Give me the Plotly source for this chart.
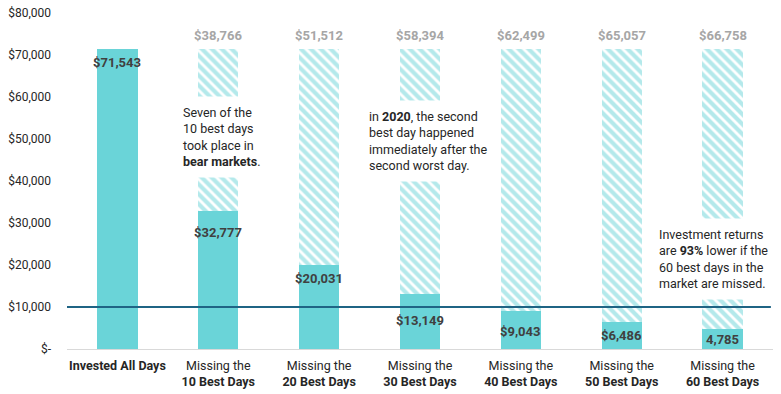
import plotly.graph_objects as go

# ---- data ----
categories = [
    "<b>Invested All Days</b>",
    "Missing the<br><b>10 Best Days</b>",
    "Missing the<br><b>20 Best Days</b>",
    "Missing the<br><b>30 Best Days</b>",
    "Missing the<br><b>40 Best Days</b>",
    "Missing the<br><b>50 Best Days</b>",
    "Missing the<br><b>60 Best Days</b>",
]
values = [71543, 32777, 20031, 13149, 9043, 6486, 4785]
value_labels = ["$71,543", "$32,777", "$20,031", "$13,149", "$9,043", "$6,486", "4,785"]
lost_labels = ["", "$38,766", "$51,512", "$58,394", "$62,499", "$65,057", "$66,758"]
y_ticks = [0, 10000, 20000, 30000, 40000, 50000, 60000, 70000, 80000]
y_tick_labels = ["$-", "$10,000", "$20,000", "$30,000", "$40,000", "$50,000",
                 "$60,000", "$70,000", "$80,000"]
reference_level = 10000

notes = [
    (1, 50500, "Seven of the<br>10 best days<br>took place in<br><b>bear markets</b>.", -44),
    (3, 49500, "in <b>2020</b>, the second<br>best day happened<br>immediately after the<br>second worst day.", -60),
    (6, 21400, "Investment returns<br>are <b>93%</b> lower if the<br>60 best days in the<br>market are missed.", -73),
]

# ---- style ----
TEAL = "#6AD4D8"
FONT = "Roboto"
value_label_drop = [14, 21, 14, 27, 20, 14, 11]

total = values[0]
lost = [total - v for v in values]
x = list(range(len(categories)))

fig = go.Figure()
fig.add_trace(go.Bar(
    x=x, y=values, width=0.4,
    marker=dict(color=TEAL, line=dict(width=0)),
    hoverinfo="skip", showlegend=False,
))
fig.add_trace(go.Bar(
    x=x, y=lost, width=0.4,
    marker=dict(color="white", line=dict(width=0),
                pattern=dict(shape="\\", fgcolor=TEAL, bgcolor="white",
                             size=7, solidity=0.6, fillmode="overlay")),
    hoverinfo="skip", showlegend=False,
))

annotations = []
for i, (v, lab, drop) in enumerate(zip(values, value_labels, value_label_drop)):
    annotations.append(dict(
        x=i, y=v, xref="x", yref="y", text=f"<b>{lab}</b>", showarrow=False,
        yanchor="middle", yshift=-drop,
        font=dict(family=FONT, size=13, color="#404040"),
    ))
for i, lab in enumerate(lost_labels):
    if lab:
        annotations.append(dict(
            x=i, y=total, xref="x", yref="y", text=f"<b>{lab}</b>", showarrow=False,
            yanchor="bottom", yshift=4,
            font=dict(family=FONT, size=13, color="#A6A6A6"),
        ))
for xi, yi, txt, xs in notes:
    annotations.append(dict(
        x=xi, y=yi, xref="x", yref="y", text=txt, showarrow=False,
        xanchor="left", yanchor="middle", xshift=xs, align="left",
        bgcolor="white", borderpad=8,
        font=dict(family=FONT, size=12.5, color="#262626"),
    ))

fig.add_shape(type="line", xref="paper", yref="y", x0=0, x1=0.997,
              y0=reference_level, y1=reference_level,
              line=dict(color="#1F6484", width=2))

fig.update_layout(
    width=781, height=394,
    margin=dict(l=67, r=8, t=13, b=45, autoexpand=False),
    barmode="stack",
    plot_bgcolor="white", paper_bgcolor="white",
    font=dict(family=FONT, size=12, color="#262626"),
    annotations=annotations,
    xaxis=dict(
        tickmode="array", tickvals=x, ticktext=categories,
        range=[-0.5, len(categories) - 0.5],
        showline=True, linecolor="#D9D9D9", linewidth=1,
        showgrid=False, zeroline=False, ticks="",
        tickfont=dict(family=FONT, size=12.5, color="#262626"),
        ticklabelstandoff=5, automargin=False,
    ),
    yaxis=dict(
        range=[0, 80000], tickmode="array", tickvals=y_ticks, ticktext=y_tick_labels,
        showgrid=False, zeroline=False, showline=False, ticks="",
        tickfont=dict(family=FONT, size=12, color="#262626"),
        ticklabelstandoff=15, automargin=False,
    ),
)

fig.write_html(
    "out.html",
    config={"displayModeBar": False, "staticPlot": True},
    post_script="document.body.style.margin='0';document.body.style.overflow='hidden';",
)
